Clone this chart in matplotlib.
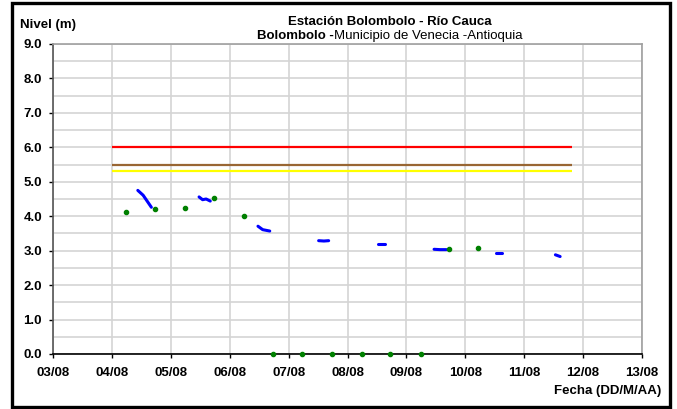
import matplotlib
matplotlib.use("Agg")
import matplotlib.pyplot as plt
from matplotlib.patches import Rectangle
import numpy as np

plt.rcParams['font.family'] = ['Liberation Sans', 'DejaVu Sans']

# x values are day-of-month (August)
day_ticks = [3, 4, 5, 6, 7, 8, 9, 10, 11, 12, 13]
day_labels = ["03/08", "04/08", "05/08", "06/08", "07/08", "08/08",
              "09/08", "10/08", "11/08", "12/08", "13/08"]

# threshold levels
thr_start, thr_end = 4.0, 11.81
thr_red = 6.0
thr_brown = 5.5
thr_yellow = 5.3

# observed level segments (blue)
blue_segments = [
    ([4.44, 4.53, 4.59, 4.67], [4.75, 4.61, 4.46, 4.26]),
    ([5.48, 5.54, 5.60, 5.67], [4.56, 4.48, 4.50, 4.44]),
    ([6.48, 6.56, 6.68], [3.71, 3.61, 3.57]),
    ([7.51, 7.60, 7.68], [3.29, 3.28, 3.29]),
    ([8.51, 8.63], [3.18, 3.18]),
    ([9.47, 9.57, 9.68], [3.04, 3.03, 3.03]),
    ([10.52, 10.63], [2.92, 2.92]),
    ([11.53, 11.61], [2.88, 2.83]),
]

# manual readings (green)
green_x = [4.24, 4.73, 5.24, 5.73, 6.24, 6.73, 7.22, 7.73, 8.24, 8.73, 9.24, 9.73, 10.22]
green_y = [4.11, 4.20, 4.23, 4.52, 4.02, 0.0, 0.0, 0.0, 0.0, 0.0, 0.0, 3.06, 3.07]

FS = 9.5

fig = plt.figure(figsize=(6.77, 4.09), dpi=100)
fig.patch.set_facecolor('white')
W, H = 677, 409
fig.patches.append(Rectangle((12 / W, 2 / H), (670 - 12) / W, (406 - 2) / H,
                             transform=fig.transFigure, fill=False,
                             edgecolor='black', linewidth=2.4, zorder=10))

ax = fig.add_axes([53 / W, 1 - 354 / H, (642 - 53) / W, (354 - 44) / H])
ax.set_xlim(3, 13)
ax.set_ylim(0, 9)
ax.set_xticks(day_ticks)
ax.set_xticklabels(day_labels)
ax.set_yticks(np.arange(0, 9.01, 1.0))
ax.set_yticklabels([f"{v:.1f}" for v in np.arange(0, 9.01, 1.0)])
ax.set_yticks(np.arange(0.5, 9, 1.0), minor=True)
ax.tick_params(axis='y', which='minor', length=0)
ax.tick_params(axis='both', which='major', labelsize=FS, length=3, width=1)
ax.tick_params(axis='x', which='major', pad=6.5)
ax.tick_params(axis='y', which='major', pad=5)
for lab in ax.get_xticklabels() + ax.get_yticklabels():
    lab.set_fontweight('bold')

ax.grid(True, which='major', axis='both', color='#d4d4d4', linewidth=1.2)
ax.grid(True, which='minor', axis='y', color='#d4d4d4', linewidth=1.2)
ax.set_axisbelow(True)

ax.spines['top'].set_color('#a0a0a0')
ax.spines['right'].set_color('#a0a0a0')
ax.spines['left'].set_color('#555555')
ax.spines['bottom'].set_color('black')
for s in ax.spines.values():
    s.set_linewidth(1.2)

ax.plot([thr_start, thr_end], [thr_red, thr_red], color='#ff0000', lw=1.6, solid_capstyle='butt')
ax.plot([thr_start, thr_end], [thr_brown, thr_brown], color='#996633', lw=1.6, solid_capstyle='butt')
ax.plot([thr_start, thr_end], [thr_yellow, thr_yellow], color='#ffff00', lw=1.6, solid_capstyle='butt')

for xs, ys in blue_segments:
    ax.plot(xs, ys, color='#0000ff', lw=2.2, solid_capstyle='round')

ax.plot(green_x, green_y, linestyle='none', marker='o', ms=3,
        color='#008000', clip_on=False, zorder=5)

fig.text(20 / W, 1 - 25 / H, "Nivel (m)", fontsize=FS, fontweight='bold',
         ha='left', va='center')
fig.text(390 / W, 1 - 22 / H, "Estación Bolombolo - Río Cauca", fontsize=FS,
         fontweight='bold', ha='center', va='center')
# second title line: bold part + normal part, centred as a whole
t1 = fig.text(0, 1 - 36 / H, "Bolombolo -", fontsize=FS, fontweight='bold',
              ha='left', va='center')
t2 = fig.text(0, 1 - 36 / H, "Municipio de Venecia -Antioquia", fontsize=FS,
              ha='left', va='center')
fig.canvas.draw()
r = fig.canvas.get_renderer()
w1 = t1.get_window_extent(r).width
w2 = t2.get_window_extent(r).width
x0 = 390 - (w1 + w2) / 2
t1.set_x(x0 / W)
t2.set_x((x0 + w1) / W)

fig.text(661 / W, 1 - 391 / H, "Fecha (DD/M/AA)", fontsize=FS, fontweight='bold',
         ha='right', va='center')

fig.savefig("out.png", dpi=100)
